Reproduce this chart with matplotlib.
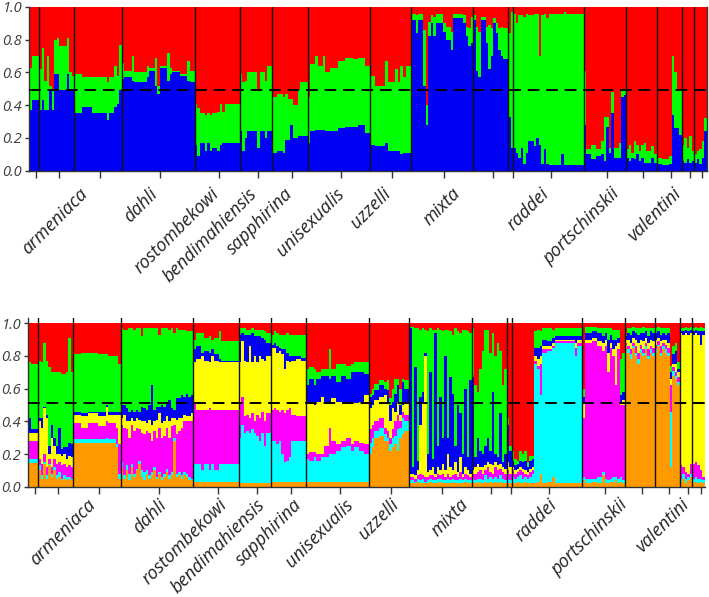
import matplotlib
matplotlib.use("Agg")
import matplotlib.pyplot as plt
from matplotlib.transforms import blended_transform_factory, ScaledTranslation


# =========================
# Data
# =========================
# K=3 panel: every population is a list of blocks
# (individuals, top of blue, top of green); red fills up to 1.0
TOP_POPS = [
    [(1, 0.37, 0.63), (3, 0.43, 0.70)],
    [(1, 0.37, 0.62), (1, 0.43, 0.75), (1, 0.37, 0.55), (1, 0.37, 0.70), (1, 0.49, 0.52),
     (1, 0.37, 0.50), (1, 0.59, 0.80), (1, 0.59, 0.81), (1, 0.49, 0.76), (1, 0.49, 0.76),
     (1, 0.49, 0.76), (1, 0.59, 0.81), (1, 0.49, 0.60), (1, 0.49, 0.58)],
    [(3, 0.35, 0.59), (4, 0.39, 0.57), (6, 0.35, 0.57), (1, 0.31, 0.54), (2, 0.35, 0.57),
     (1, 0.39, 0.64), (1, 0.41, 0.58), (1, 0.49, 0.77)],
    [(1, 0.56, 0.66), (3, 0.57, 0.61), (1, 0.55, 0.70), (5, 0.54, 0.60), (1, 0.57, 0.64),
     (2, 0.61, 0.63), (1, 0.52, 0.69), (1, 0.47, 0.52), (3, 0.63, 0.64), (1, 0.55, 0.72),
     (1, 0.59, 0.63), (3, 0.60, 0.61), (3, 0.58, 0.59), (1, 0.55, 0.67), (2, 0.54, 0.61)],
    [(1, 0.16, 0.41), (1, 0.09, 0.38), (2, 0.17, 0.35), (1, 0.12, 0.34), (1, 0.17, 0.35),
     (1, 0.12, 0.34), (2, 0.14, 0.35), (1, 0.12, 0.36), (1, 0.16, 0.41), (1, 0.17, 0.36),
     (6, 0.17, 0.41)],
    [(1, 0.24, 0.59), (1, 0.12, 0.54), (1, 0.20, 0.55), (4, 0.24, 0.60), (1, 0.14, 0.49),
     (2, 0.24, 0.60), (1, 0.20, 0.55), (2, 0.24, 0.64)],
    [(2, 0.11, 0.45), (2, 0.12, 0.47), (1, 0.11, 0.45), (1, 0.19, 0.47), (1, 0.19, 0.44),
     (1, 0.28, 0.44), (2, 0.20, 0.40), (1, 0.21, 0.50), (3, 0.21, 0.54)],
    [(1, 0.17, 0.45), (2, 0.24, 0.65), (1, 0.25, 0.70), (2, 0.25, 0.64), (1, 0.25, 0.70),
     (2, 0.24, 0.60), (3, 0.24, 0.63), (3, 0.26, 0.67), (3, 0.27, 0.69), (2, 0.27, 0.68),
     (3, 0.28, 0.69), (2, 0.23, 0.64)],
    [(2, 0.16, 0.58), (4, 0.15, 0.52), (1, 0.17, 0.67), (3, 0.12, 0.54), (1, 0.12, 0.62),
     (1, 0.12, 0.54), (1, 0.10, 0.64), (1, 0.11, 0.57), (2, 0.11, 0.64)],
    [(2, 0.92, 0.96), (1, 0.84, 0.95), (2, 0.92, 0.96), (1, 0.52, 0.86), (1, 0.28, 0.40),
     (1, 0.82, 0.91), (1, 0.90, 0.95), (1, 0.82, 0.94), (3, 0.90, 0.96), (1, 0.85, 0.90),
     (2, 0.80, 0.88), (1, 0.74, 0.85), (4, 0.93, 0.96), (1, 0.90, 0.95), (1, 0.82, 0.88),
     (1, 0.76, 0.87), (1, 0.78, 0.94)],
    [(1, 0.92, 0.95), (1, 0.61, 0.88), (1, 0.57, 0.85), (2, 0.92, 0.94), (1, 0.78, 0.88),
     (1, 0.62, 0.89), (1, 0.70, 0.87), (1, 0.90, 0.93), (1, 0.84, 0.90), (1, 0.74, 0.87),
     (1, 0.70, 0.88), (2, 0.68, 0.87)],
    [(1, 0.33, 0.84), (1, 0.14, 0.97)],
    [(1, 0.14, 0.96), (1, 0.11, 0.90), (1, 0.08, 0.95), (1, 0.14, 0.95), (1, 0.04, 0.94),
     (1, 0.11, 0.96), (2, 0.18, 0.95), (1, 0.15, 0.96), (1, 0.20, 0.96), (1, 0.16, 0.70),
     (1, 0.04, 0.95), (1, 0.13, 0.96), (1, 0.04, 0.93), (5, 0.035, 0.96), (1, 0.10, 0.96),
     (1, 0.035, 0.97), (7, 0.035, 0.96)],
    [(1, 0.28, 0.61), (2, 0.10, 0.13), (2, 0.07, 0.16), (2, 0.09, 0.13), (1, 0.10, 0.18),
     (1, 0.06, 0.33), (1, 0.27, 0.33), (1, 0.11, 0.14), (1, 0.35, 0.48), (2, 0.08, 0.14),
     (1, 0.08, 0.17), (1, 0.45, 0.49), (1, 0.46, 0.50)],
    [(1, 0.08, 0.13), (1, 0.06, 0.16), (1, 0.08, 0.11), (1, 0.07, 0.18), (1, 0.10, 0.16),
     (1, 0.06, 0.12), (1, 0.08, 0.16), (1, 0.05, 0.17), (2, 0.05, 0.12), (1, 0.08, 0.15),
     (1, 0.05, 0.10)],
    [(2, 0.04, 0.08), (3, 0.035, 0.07), (1, 0.04, 0.09), (1, 0.34, 0.70), (1, 0.26, 0.60),
     (1, 0.26, 0.50), (1, 0.22, 0.49)],
    [(1, 0.06, 0.16), (1, 0.05, 0.20), (1, 0.07, 0.14), (1, 0.05, 0.21), (1, 0.06, 0.12)],
    [(1, 0.05, 0.10), (1, 0.07, 0.12), (1, 0.04, 0.13), (1, 0.08, 0.18), (1, 0.24, 0.32)],
]

# K=7 panel: blocks of (individuals, tops of orange, cyan, magenta, yellow, blue, green);
# red fills up to 1.0
BOTTOM_POPS = [
    [(1, 0.145, 0.17, 0.28, 0.33, 0.42, 0.76), (3, 0.145, 0.17, 0.28, 0.33, 0.35, 0.75)],
    [(1, 0.10, 0.13, 0.17, 0.40, 0.42, 0.77), (1, 0.05, 0.07, 0.14, 0.36, 0.42, 0.76),
     (1, 0.14, 0.15, 0.20, 0.48, 0.49, 0.88), (1, 0.05, 0.07, 0.12, 0.42, 0.44, 0.77),
     (1, 0.13, 0.14, 0.17, 0.20, 0.25, 0.73), (1, 0.06, 0.08, 0.12, 0.30, 0.38, 0.70),
     (1, 0.10, 0.12, 0.17, 0.25, 0.30, 0.70), (1, 0.05, 0.07, 0.14, 0.20, 0.25, 0.70),
     (1, 0.06, 0.09, 0.15, 0.20, 0.36, 0.70), (1, 0.04, 0.05, 0.13, 0.19, 0.23, 0.69),
     (1, 0.05, 0.07, 0.14, 0.20, 0.24, 0.69), (1, 0.04, 0.06, 0.12, 0.17, 0.24, 0.70),
     (1, 0.05, 0.06, 0.13, 0.19, 0.27, 0.91), (1, 0.04, 0.05, 0.12, 0.18, 0.26, 0.70)],
    [(3, 0.27, 0.29, 0.39, 0.44, 0.46, 0.81), (3, 0.27, 0.29, 0.36, 0.43, 0.45, 0.82),
     (4, 0.27, 0.29, 0.39, 0.45, 0.46, 0.82), (3, 0.27, 0.29, 0.37, 0.43, 0.46, 0.81),
     (1, 0.27, 0.30, 0.40, 0.49, 0.50, 0.81), (3, 0.27, 0.29, 0.39, 0.44, 0.46, 0.80),
     (1, 0.24, 0.26, 0.36, 0.44, 0.46, 0.80), (1, 0.05, 0.08, 0.26, 0.44, 0.46, 0.75)],
    [(1, 0.12, 0.15, 0.38, 0.42, 0.50, 0.97), (1, 0.05, 0.07, 0.36, 0.44, 0.50, 0.96),
     (1, 0.10, 0.13, 0.35, 0.40, 0.48, 0.96), (1, 0.04, 0.08, 0.30, 0.40, 0.46, 0.97),
     (1, 0.12, 0.14, 0.38, 0.42, 0.47, 0.97), (1, 0.06, 0.08, 0.34, 0.40, 0.46, 0.96),
     (1, 0.10, 0.11, 0.36, 0.42, 0.47, 0.97), (1, 0.14, 0.16, 0.35, 0.41, 0.46, 0.97),
     (1, 0.06, 0.10, 0.33, 0.40, 0.49, 0.92), (1, 0.04, 0.09, 0.32, 0.40, 0.48, 0.97),
     (1, 0.08, 0.10, 0.34, 0.39, 0.47, 0.97), (1, 0.05, 0.07, 0.33, 0.41, 0.50, 0.97),
     (1, 0.07, 0.09, 0.28, 0.38, 0.62, 0.97), (1, 0.10, 0.12, 0.34, 0.40, 0.47, 0.97),
     (1, 0.05, 0.06, 0.30, 0.41, 0.49, 0.97), (1, 0.08, 0.09, 0.36, 0.45, 0.49, 0.93),
     (1, 0.04, 0.06, 0.30, 0.39, 0.50, 0.97), (1, 0.06, 0.08, 0.31, 0.40, 0.49, 0.97),
     (1, 0.09, 0.11, 0.36, 0.43, 0.52, 0.97), (1, 0.05, 0.07, 0.30, 0.40, 0.53, 0.96),
     (1, 0.07, 0.09, 0.37, 0.42, 0.48, 0.97), (1, 0.28, 0.30, 0.38, 0.42, 0.47, 0.94),
     (1, 0.06, 0.08, 0.32, 0.41, 0.54, 0.97), (1, 0.07, 0.09, 0.34, 0.42, 0.54, 0.96),
     (1, 0.05, 0.07, 0.36, 0.42, 0.56, 0.96), (1, 0.07, 0.09, 0.40, 0.44, 0.55, 0.96),
     (1, 0.06, 0.08, 0.40, 0.43, 0.57, 0.95), (1, 0.04, 0.06, 0.40, 0.43, 0.55, 0.95),
     (1, 0.04, 0.05, 0.40, 0.45, 0.56, 0.95)],
    [(1, 0.03, 0.14, 0.52, 0.76, 0.84, 0.90), (2, 0.03, 0.14, 0.47, 0.78, 0.86, 0.94),
     (1, 0.03, 0.10, 0.47, 0.80, 0.82, 0.94), (2, 0.03, 0.14, 0.47, 0.77, 0.83, 0.91),
     (1, 0.03, 0.10, 0.48, 0.76, 0.82, 0.92), (1, 0.03, 0.14, 0.47, 0.80, 0.84, 0.90),
     (2, 0.03, 0.10, 0.47, 0.77, 0.81, 0.91), (1, 0.03, 0.14, 0.47, 0.76, 0.78, 0.95),
     (1, 0.03, 0.14, 0.47, 0.76, 0.77, 0.89), (6, 0.03, 0.14, 0.47, 0.76, 0.77, 0.89)],
    [(1, 0.02, 0.30, 0.52, 0.76, 0.93, 0.97), (1, 0.02, 0.38, 0.55, 0.89, 0.94, 0.97),
     (1, 0.02, 0.33, 0.43, 0.77, 0.93, 0.97), (1, 0.02, 0.34, 0.44, 0.76, 0.93, 0.96),
     (1, 0.02, 0.33, 0.42, 0.86, 0.93, 0.96), (1, 0.02, 0.35, 0.45, 0.76, 0.94, 0.97),
     (1, 0.02, 0.33, 0.40, 0.80, 0.92, 0.96), (1, 0.02, 0.31, 0.44, 0.76, 0.92, 0.96),
     (1, 0.02, 0.28, 0.42, 0.80, 0.92, 0.96), (1, 0.02, 0.33, 0.46, 0.78, 0.91, 0.96),
     (1, 0.02, 0.25, 0.40, 0.77, 0.90, 0.95), (2, 0.02, 0.33, 0.45, 0.80, 0.88, 0.94)],
    [(1, 0.03, 0.28, 0.47, 0.85, 0.87, 0.93), (1, 0.03, 0.28, 0.48, 0.85, 0.88, 0.95),
     (1, 0.03, 0.26, 0.47, 0.82, 0.86, 0.94), (1, 0.03, 0.28, 0.46, 0.83, 0.85, 0.93),
     (1, 0.03, 0.20, 0.47, 0.81, 0.84, 0.93), (1, 0.03, 0.15, 0.45, 0.72, 0.84, 0.93),
     (1, 0.03, 0.16, 0.47, 0.77, 0.82, 0.94), (1, 0.03, 0.18, 0.48, 0.76, 0.80, 0.93),
     (2, 0.03, 0.28, 0.44, 0.77, 0.80, 0.93), (2, 0.03, 0.28, 0.43, 0.78, 0.80, 0.93),
     (2, 0.03, 0.28, 0.43, 0.77, 0.79, 0.93)],
    [(1, 0.03, 0.17, 0.20, 0.51, 0.62, 0.72), (2, 0.03, 0.16, 0.21, 0.51, 0.66, 0.73),
     (1, 0.03, 0.18, 0.21, 0.50, 0.62, 0.72), (2, 0.03, 0.16, 0.20, 0.52, 0.66, 0.70),
     (1, 0.03, 0.18, 0.20, 0.55, 0.68, 0.72), (2, 0.03, 0.18, 0.25, 0.52, 0.68, 0.72),
     (1, 0.03, 0.20, 0.36, 0.52, 0.66, 0.84), (2, 0.03, 0.20, 0.28, 0.54, 0.68, 0.72),
     (2, 0.03, 0.22, 0.26, 0.52, 0.64, 0.75), (2, 0.03, 0.24, 0.28, 0.52, 0.68, 0.75),
     (2, 0.03, 0.25, 0.30, 0.51, 0.66, 0.74), (1, 0.03, 0.22, 0.26, 0.52, 0.70, 0.75),
     (2, 0.03, 0.24, 0.28, 0.51, 0.70, 0.76), (2, 0.03, 0.22, 0.27, 0.52, 0.70, 0.76),
     (2, 0.03, 0.20, 0.26, 0.56, 0.69, 0.76)],
    [(1, 0.20, 0.27, 0.35, 0.48, 0.55, 0.57), (1, 0.24, 0.30, 0.38, 0.50, 0.56, 0.60),
     (2, 0.30, 0.34, 0.40, 0.53, 0.59, 0.63), (2, 0.31, 0.36, 0.42, 0.55, 0.62, 0.65),
     (1, 0.28, 0.32, 0.36, 0.56, 0.60, 0.64), (1, 0.28, 0.30, 0.34, 0.52, 0.59, 0.65),
     (1, 0.22, 0.26, 0.30, 0.40, 0.50, 0.54), (1, 0.24, 0.30, 0.35, 0.48, 0.52, 0.60),
     (1, 0.26, 0.31, 0.40, 0.46, 0.57, 0.66), (1, 0.22, 0.35, 0.44, 0.52, 0.62, 0.66),
     (1, 0.30, 0.36, 0.40, 0.44, 0.50, 0.60), (1, 0.32, 0.42, 0.46, 0.50, 0.64, 0.66),
     (2, 0.34, 0.40, 0.44, 0.52, 0.60, 0.65)],
    [(1, 0.02, 0.04, 0.06, 0.08, 0.97, 0.98), (1, 0.02, 0.04, 0.06, 0.08, 0.12, 0.98),
     (1, 0.02, 0.03, 0.05, 0.07, 0.73, 0.97), (1, 0.03, 0.05, 0.07, 0.10, 0.16, 0.97),
     (1, 0.02, 0.04, 0.08, 0.38, 0.55, 0.96), (1, 0.02, 0.05, 0.07, 0.52, 0.58, 0.97),
     (1, 0.02, 0.03, 0.06, 0.80, 0.82, 0.96), (1, 0.02, 0.04, 0.06, 0.09, 0.20, 0.95),
     (1, 0.03, 0.05, 0.07, 0.10, 0.70, 0.97), (1, 0.02, 0.04, 0.07, 0.12, 0.17, 0.96),
     (1, 0.02, 0.04, 0.06, 0.08, 0.94, 0.96), (1, 0.02, 0.05, 0.08, 0.12, 0.25, 0.97),
     (1, 0.03, 0.05, 0.07, 0.10, 0.55, 0.96), (1, 0.02, 0.04, 0.08, 0.14, 0.30, 0.95),
     (1, 0.02, 0.04, 0.06, 0.10, 0.80, 0.96), (1, 0.02, 0.05, 0.08, 0.20, 0.30, 0.96),
     (1, 0.02, 0.04, 0.06, 0.12, 0.67, 0.95), (1, 0.03, 0.05, 0.07, 0.10, 0.57, 0.93),
     (1, 0.02, 0.04, 0.08, 0.15, 0.25, 0.97), (1, 0.02, 0.04, 0.06, 0.09, 0.50, 0.95),
     (1, 0.02, 0.05, 0.09, 0.18, 0.45, 0.94), (1, 0.02, 0.04, 0.06, 0.08, 0.20, 0.96),
     (1, 0.03, 0.05, 0.08, 0.12, 0.60, 0.96), (1, 0.02, 0.04, 0.07, 0.10, 0.18, 0.95),
     (1, 0.02, 0.04, 0.06, 0.08, 0.65, 0.94)],
    [(1, 0.03, 0.05, 0.08, 0.10, 0.67, 0.97), (1, 0.02, 0.04, 0.08, 0.12, 0.18, 0.62),
     (1, 0.03, 0.05, 0.09, 0.14, 0.30, 0.58), (1, 0.02, 0.05, 0.10, 0.12, 0.22, 0.72),
     (1, 0.02, 0.04, 0.08, 0.12, 0.20, 0.83), (1, 0.03, 0.07, 0.10, 0.13, 0.25, 0.96),
     (1, 0.02, 0.05, 0.12, 0.15, 0.30, 0.96), (1, 0.03, 0.06, 0.09, 0.14, 0.22, 0.82),
     (1, 0.02, 0.05, 0.08, 0.13, 0.58, 0.94), (1, 0.03, 0.06, 0.12, 0.15, 0.20, 0.80),
     (1, 0.02, 0.05, 0.10, 0.13, 0.18, 0.88), (1, 0.03, 0.07, 0.11, 0.14, 0.45, 0.83),
     (1, 0.02, 0.05, 0.09, 0.12, 0.15, 0.62), (1, 0.02, 0.04, 0.08, 0.11, 0.20, 0.72)],
    [(1, 0.02, 0.05, 0.10, 0.15, 0.38, 0.42), (1, 0.02, 0.04, 0.08, 0.12, 0.22, 0.25)],
    [(1, 0.02, 0.06, 0.10, 0.12, 0.16, 0.22), (1, 0.02, 0.05, 0.08, 0.10, 0.13, 0.17),
     (1, 0.03, 0.06, 0.09, 0.11, 0.14, 0.16), (1, 0.02, 0.07, 0.10, 0.12, 0.16, 0.22),
     (1, 0.02, 0.05, 0.09, 0.11, 0.15, 0.20), (1, 0.03, 0.06, 0.08, 0.10, 0.16, 0.22),
     (1, 0.02, 0.05, 0.07, 0.09, 0.12, 0.15), (1, 0.02, 0.06, 0.09, 0.11, 0.16, 0.19),
     (1, 0.02, 0.08, 0.10, 0.12, 0.17, 0.19),
     (1, 0.02, 0.75, 0.77, 0.80, 0.85, 0.95), (1, 0.03, 0.72, 0.74, 0.78, 0.85, 0.96),
     (1, 0.08, 0.56, 0.75, 0.80, 0.86, 0.95), (2, 0.02, 0.82, 0.84, 0.86, 0.90, 0.97),
     (2, 0.03, 0.83, 0.84, 0.86, 0.89, 0.97), (1, 0.06, 0.85, 0.86, 0.88, 0.91, 0.96),
     (8, 0.02, 0.88, 0.89, 0.90, 0.92, 0.97), (1, 0.02, 0.80, 0.85, 0.88, 0.92, 0.97),
     (2, 0.02, 0.86, 0.88, 0.90, 0.92, 0.97)],
    [(1, 0.04, 0.06, 0.42, 0.52, 0.55, 0.60), (3, 0.02, 0.05, 0.88, 0.90, 0.94, 0.98),
     (2, 0.03, 0.05, 0.89, 0.91, 0.95, 0.98), (2, 0.02, 0.06, 0.86, 0.89, 0.94, 0.97),
     (1, 0.07, 0.09, 0.83, 0.88, 0.92, 0.97), (1, 0.02, 0.05, 0.86, 0.90, 0.94, 0.97),
     (1, 0.02, 0.04, 0.70, 0.82, 0.90, 0.97), (1, 0.03, 0.05, 0.85, 0.88, 0.93, 0.97),
     (1, 0.03, 0.06, 0.80, 0.84, 0.90, 0.96), (1, 0.04, 0.06, 0.62, 0.86, 0.90, 0.96),
     (1, 0.02, 0.05, 0.84, 0.88, 0.91, 0.96), (1, 0.03, 0.06, 0.50, 0.52, 0.56, 0.78),
     (1, 0.02, 0.04, 0.50, 0.53, 0.58, 0.82)],
    [(1, 0.86, 0.87, 0.88, 0.90, 0.92, 0.93), (1, 0.82, 0.84, 0.86, 0.90, 0.94, 0.97),
     (1, 0.78, 0.81, 0.84, 0.88, 0.93, 0.97), (1, 0.85, 0.86, 0.88, 0.91, 0.95, 0.98),
     (1, 0.80, 0.82, 0.86, 0.90, 0.94, 0.97), (1, 0.75, 0.78, 0.82, 0.88, 0.93, 0.97),
     (1, 0.82, 0.84, 0.87, 0.90, 0.94, 0.97), (1, 0.80, 0.82, 0.84, 0.89, 0.94, 0.98),
     (1, 0.84, 0.86, 0.88, 0.91, 0.95, 0.97), (1, 0.78, 0.80, 0.84, 0.88, 0.92, 0.97),
     (1, 0.82, 0.84, 0.86, 0.90, 0.95, 0.97), (1, 0.80, 0.82, 0.85, 0.89, 0.94, 0.97)],
    [(1, 0.82, 0.84, 0.87, 0.90, 0.94, 0.97), (1, 0.86, 0.87, 0.89, 0.91, 0.95, 0.98),
     (1, 0.80, 0.82, 0.86, 0.89, 0.93, 0.97), (1, 0.84, 0.86, 0.88, 0.90, 0.94, 0.97),
     (1, 0.82, 0.84, 0.87, 0.90, 0.93, 0.97), (1, 0.80, 0.82, 0.85, 0.88, 0.94, 0.97),
     (1, 0.12, 0.46, 0.62, 0.66, 0.70, 0.74), (1, 0.68, 0.71, 0.73, 0.75, 0.81, 0.86),
     (1, 0.66, 0.68, 0.70, 0.75, 0.83, 0.88), (1, 0.62, 0.64, 0.67, 0.70, 0.72, 0.76)],
    [(1, 0.03, 0.05, 0.13, 0.94, 0.95, 0.97), (1, 0.05, 0.08, 0.12, 0.93, 0.95, 0.97),
     (1, 0.02, 0.05, 0.09, 0.94, 0.96, 0.98), (1, 0.04, 0.06, 0.08, 0.93, 0.95, 0.97),
     (1, 0.06, 0.08, 0.14, 0.94, 0.96, 0.98)],
    [(1, 0.03, 0.05, 0.14, 0.93, 0.95, 0.97), (1, 0.03, 0.06, 0.15, 0.94, 0.96, 0.98),
     (1, 0.02, 0.05, 0.13, 0.93, 0.95, 0.97), (1, 0.03, 0.05, 0.10, 0.87, 0.95, 0.98),
     (1, 0.02, 0.04, 0.06, 0.93, 0.95, 0.97)],
]

TOP_COLORS = ["#0000F5", "#00FF00", "#FF0000"]
BOTTOM_COLORS = ["#FF9900", "#00FFFF", "#FF00FF", "#FFFF00", "#0000F5", "#00FF00", "#FF0000"]

SPECIES = ["armeniaca", "dahli", "rostombekowi", "bendimahiensis", "sapphirina",
           "unisexualis", "uzzelli", "mixta", "raddei", "portschinskii", "valentini"]
# first and last population index of every species
SPECIES_POPS = [(1, 2), (3, 3), (4, 4), (5, 5), (6, 6), (7, 7), (8, 8),
                (9, 10), (11, 12), (13, 14), (15, 17)]
# small sideways nudge of each label, in individuals
LABEL_NUDGE = [3.0, 0.0, 1.0, 0.5, 1.5, 2.5, 0.5, 0.5, 1.5, 0.0, 0.0]

THRESHOLD = {"top": 0.49, "bottom": 0.51}

FONT = ["Open Sans", "DejaVu Sans"]


# =========================
# Drawing
# =========================
def expand(pops):
    """Blocks -> one list of cumulative tops per individual, plus population sizes."""
    rows, sizes = [], []
    for pop in pops:
        n_pop = 0
        for block in pop:
            n = block[0]
            rows.extend([list(block[1:]) + [1.0]] * n)
            n_pop += n
        sizes.append(n_pop)
    return rows, sizes


def draw_panel(ax, pops, colors, threshold, label_shift, label_drop):
    rows, sizes = expand(pops)
    n_ind = len(rows)
    xs = list(range(n_ind))

    for k, color in enumerate(colors):
        bottoms = [0.0 if k == 0 else r[k - 1] for r in rows]
        heights = [r[k] - b for r, b in zip(rows, bottoms)]
        ax.bar(xs, heights, bottom=bottoms, width=1.0, align="edge",
               color=color, linewidth=0, zorder=1)

    edges = [0]
    for s in sizes:
        edges.append(edges[-1] + s)

    for e in edges[1:-1]:
        ax.axvline(e, color="#111111", linewidth=1.0, zorder=3)

    ax.axhline(threshold, color="black", linestyle=(0, (6, 3.5)), linewidth=1.4, zorder=4,
               clip_on=False)

    centers = [(a + b) / 2 + 0.8 for a, b in zip(edges[:-1], edges[1:])]
    ax.set_xticks(centers)
    ax.set_xticklabels([])
    ax.tick_params(axis="x", length=5, width=1.0, color="#333333")

    ax.set_xlim(0, n_ind)
    ax.set_yticks([0, 0.2, 0.4, 0.6, 0.8, 1.0])
    ax.set_yticklabels(["0.0", "0.2", "0.4", "0.6", "0.8", "1.0"],
                       fontsize=10.5, style="italic", color="#3a3a3a", family=FONT)
    ax.tick_params(axis="y", length=3, width=1.0, color="#333333", pad=2)

    ax.spines["top"].set_visible(False)
    for side in ["left", "bottom", "right"]:
        ax.spines[side].set_color("#333333")
        ax.spines[side].set_linewidth(1.0)

    trans = blended_transform_factory(ax.transData, ax.transAxes)
    drop = ScaledTranslation(0, -label_drop / 100, ax.figure.dpi_scale_trans)
    for name, (p0, p1), nudge in zip(SPECIES, SPECIES_POPS, LABEL_NUDGE):
        cx = (edges[p0] + edges[p1 + 1]) / 2 + label_shift + nudge
        ax.text(cx, 0, name, transform=trans + drop,
                rotation=45, ha="right", va="top", fontsize=13, style="italic",
                color="#222222", family=FONT)


fig = plt.figure(figsize=(7.09, 5.97), dpi=100)

ax_top = fig.add_axes([29 / 709, 1 - 170.7 / 597, 677.7 / 709, 163.7 / 597])
ax_top.set_ylim(0, 1.0)
draw_panel(ax_top, TOP_POPS, TOP_COLORS, THRESHOLD["top"], 1.2, 14)

ax_bot = fig.add_axes([28 / 709, 1 - 486.7 / 597, 677 / 709, 169 / 597])
ax_bot.set_ylim(0, 1.034)
ax_bot.spines["right"].set_visible(False)
draw_panel(ax_bot, BOTTOM_POPS, BOTTOM_COLORS, THRESHOLD["bottom"], 5.0, 9)

fig.savefig("out.png", dpi=100)
